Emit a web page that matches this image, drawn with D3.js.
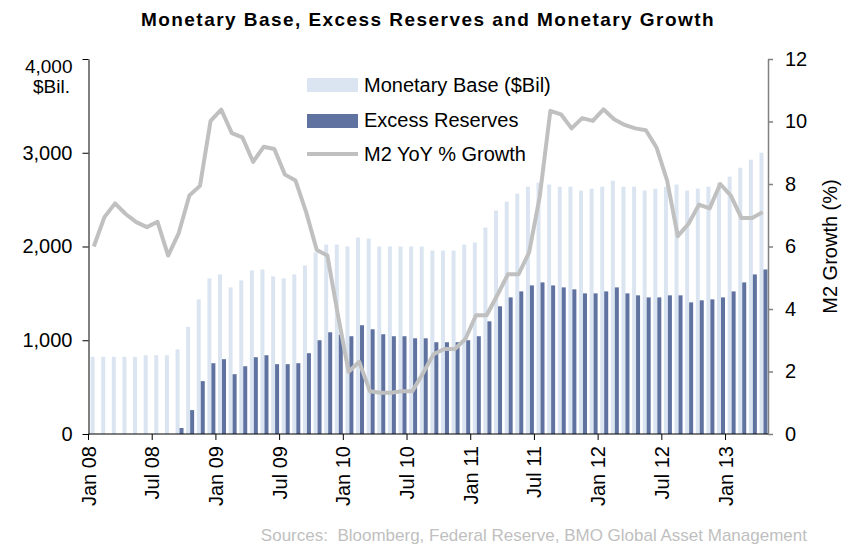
<!DOCTYPE html>
<html>
<head>
<meta charset="utf-8">
<script src="https://cdnjs.cloudflare.com/ajax/libs/d3/7.8.5/d3.min.js"></script>
<style>
  body { margin: 0; background: #fff; }
  text { font-family: Arial, "Liberation Sans", sans-serif; }
</style>
</head>
<body>
<div id="chart"></div>
<script>
// Data (monthly, Jan 2008 - Apr 2013)
const months = d3.timeMonth.range(new Date(2008, 0, 1), new Date(2013, 4, 1));
const tickMonths = ["Jan 08", "Jul 08", "Jan 09", "Jul 09", "Jan 10", "Jul 10", "Jan 11",
  "Jul 11", "Jan 12", "Jul 12", "Jan 13"];
const leftTicks = [0, 1000, 2000, 3000, 4000];
const rightTicks = [0, 2, 4, 6, 8, 10, 12];

const monetaryBase = [823, 823, 823, 823, 823, 840, 840, 840, 904, 1142, 1436, 1660,
  1702, 1564, 1638, 1745, 1755, 1681, 1660, 1702, 1798, 1936, 2021, 2021,
  2000, 2096, 2085, 2000, 2000, 2000, 2000, 2000, 1957, 1957, 1957, 2021,
  2043, 2202, 2383, 2479, 2564, 2638, 2681, 2660, 2638, 2638, 2596, 2617,
  2638, 2702, 2638, 2638, 2596, 2617, 2638, 2660, 2596, 2617, 2638, 2681,
  2745, 2840, 2926, 3000];
const excessReserves = [0, 0, 0, 0, 0, 0, 0, 0, 64, 255, 564, 755,
  798, 638, 723, 819, 840, 745, 745, 755, 862, 1000, 1085, 1060,
  1043, 1160, 1117, 1064, 1043, 1043, 1021, 1021, 979, 979, 979, 1000,
  1043, 1202, 1362, 1457, 1521, 1585, 1617, 1585, 1564, 1543, 1500, 1500,
  1521, 1564, 1500, 1479, 1457, 1457, 1479, 1479, 1404, 1426, 1436, 1457,
  1521, 1617, 1702, 1755];
const m2Growth = [6.0, 6.94, 7.38, 7.04, 6.78, 6.62, 6.79, 5.71, 6.43, 7.63, 7.94, 10.02,
  10.38, 9.63, 9.49, 8.71, 9.19, 9.12, 8.30, 8.11, 7.1, 5.89, 5.71, 3.8,
  1.99, 2.31, 1.37, 1.32, 1.32, 1.37, 1.37, 1.94, 2.55, 2.72, 2.72, 3.04,
  3.80, 3.80, 4.44, 5.11, 5.11, 5.81, 7.6, 10.34, 10.23, 9.78, 10.11, 10.02,
  10.39, 10.07, 9.89, 9.78, 9.72, 9.17, 8.11, 6.33, 6.72, 7.34, 7.22, 8.0,
  7.63, 6.91, 6.91, 7.10];

const width = 858, height = 549;
const plotLeft = 88.5, plotRight = 768, plotTop = 59, plotBottom = 434;
const lightBlue = "#dbe5f1", darkBlue = "#5f72a0", gray = "#c0c0c0";

const fmtMonth = d3.timeFormat("%b %y");

const svg = d3.select("#chart")
  .append("svg")
  .attr("width", width)
  .attr("height", height);

// Scales
const x = d3.scaleBand()
  .domain(months)
  .range([plotLeft, plotRight]);
const xs = d3.scaleBand()
  .domain(["base", "excess"])
  .range([0, x.bandwidth()])
  .paddingOuter(0.33)
  .align(0.8);
const y = d3.scaleLinear().domain([0, 4000]).range([plotBottom, plotTop]);
const y2 = d3.scaleLinear().domain([0, 12]).range([plotBottom, plotTop]);

// Title
svg.append("text")
  .attr("x", 428)
  .attr("y", 26)
  .attr("text-anchor", "middle")
  .style("font-size", "19px")
  .style("font-weight", "bold")
  .style("letter-spacing", "1.45px")
  .text("Monetary Base, Excess Reserves and Monetary Growth");

// Bars
svg.append("g").selectAll("rect.base")
  .data(months)
  .enter()
  .append("rect")
  .attr("x", (d, i) => x(d) + xs("base"))
  .attr("y", (d, i) => y(monetaryBase[i]))
  .attr("width", xs.bandwidth())
  .attr("height", (d, i) => plotBottom - y(monetaryBase[i]))
  .attr("fill", lightBlue);

svg.append("g").selectAll("rect.excess")
  .data(months)
  .enter()
  .append("rect")
  .attr("x", (d, i) => x(d) + xs("excess"))
  .attr("y", (d, i) => y(excessReserves[i]))
  .attr("width", xs.bandwidth())
  .attr("height", (d, i) => plotBottom - y(excessReserves[i]))
  .attr("fill", darkBlue);

// M2 line
const line = d3.line()
  .x((d, i) => x(months[i]) + x.bandwidth() / 2)
  .y(d => y2(d));
svg.append("path")
  .datum(m2Growth)
  .attr("d", line)
  .attr("fill", "none")
  .attr("stroke", gray)
  .attr("stroke-width", 4)
  .attr("stroke-linejoin", "round");

// Left axis
const yAxis = svg.append("g")
  .attr("transform", "translate(" + plotLeft + ",0)")
  .call(d3.axisLeft(y).tickValues(leftTicks).tickFormat(d3.format(",")).tickSize(6).tickPadding(10).tickSizeOuter(0));
yAxis.selectAll("text").style("font-size", "20px").attr("fill", "#000");
// top label sits just below its tick, as in the original
yAxis.selectAll("text").filter(d => d === 4000)
  .style("font-size", "19px")
  .attr("dy", "0.7em");
yAxis.selectAll("line, path").attr("stroke", "#000");
svg.append("text")
  .attr("x", 70)
  .attr("y", 93)
  .attr("text-anchor", "end")
  .style("font-size", "19px")
  .text("$Bil.");

// Right axis
const y2Axis = svg.append("g")
  .attr("transform", "translate(" + plotRight + ",0)")
  .call(d3.axisRight(y2).tickValues(rightTicks).tickSize(5).tickPadding(12).tickSizeOuter(0));
y2Axis.selectAll("text").style("font-size", "20px").attr("fill", "#000");
y2Axis.selectAll("line, path").attr("stroke", "#808080").attr("stroke-width", 1.5);
svg.append("text")
  .attr("transform", "translate(837," + ((plotTop + plotBottom) / 2) + ") rotate(-90)")
  .attr("text-anchor", "middle")
  .style("font-size", "20px")
  .text("M2 Growth (%)");

// X axis
const xAxis = svg.append("g")
  .attr("transform", "translate(0," + plotBottom + ")")
  .call(d3.axisBottom(x)
    .tickValues(months.filter(d => tickMonths.includes(fmtMonth(d))))
    .tickFormat(fmtMonth)
    .tickSize(6)
    .tickSizeOuter(0)
    .offset(0));
xAxis.selectAll(".tick").attr("transform", d => "translate(" + x(d) + ",0)");
xAxis.selectAll("line, path").attr("stroke", "#000");
xAxis.selectAll("text")
  .style("font-size", "20px")
  .attr("fill", "#000")
  .attr("text-anchor", "end")
  .attr("transform", "rotate(-90)")
  .attr("x", -12)
  .attr("y", 0)
  .attr("dy", "0.35em");

// Legend
const legend = svg.append("g").attr("transform", "translate(307,0)");
legend.append("rect").attr("x", 0).attr("y", 78).attr("width", 51).attr("height", 14).attr("fill", lightBlue);
legend.append("rect").attr("x", 0).attr("y", 114).attr("width", 51).attr("height", 14).attr("fill", darkBlue);
legend.append("line").attr("x1", 0).attr("x2", 51).attr("y1", 154).attr("y2", 154)
  .attr("stroke", gray).attr("stroke-width", 4);
const legendLabels = ["Monetary Base ($Bil)", "Excess Reserves", "M2 YoY % Growth"];
legend.selectAll("text.lbl")
  .data(legendLabels)
  .enter()
  .append("text")
  .attr("x", 57)
  .attr("y", (d, i) => [92, 127, 161][i])
  .style("font-size", "20px")
  .text(d => d);

// Source
svg.append("text")
  .attr("x", 807)
  .attr("y", 541)
  .attr("text-anchor", "end")
  .attr("fill", "#bfbfbf")
  .style("font-size", "17px")
  .style("white-space", "pre")
  .text("Sources:  Bloomberg, Federal Reserve, BMO Global Asset Management");
</script>
</body>
</html>
